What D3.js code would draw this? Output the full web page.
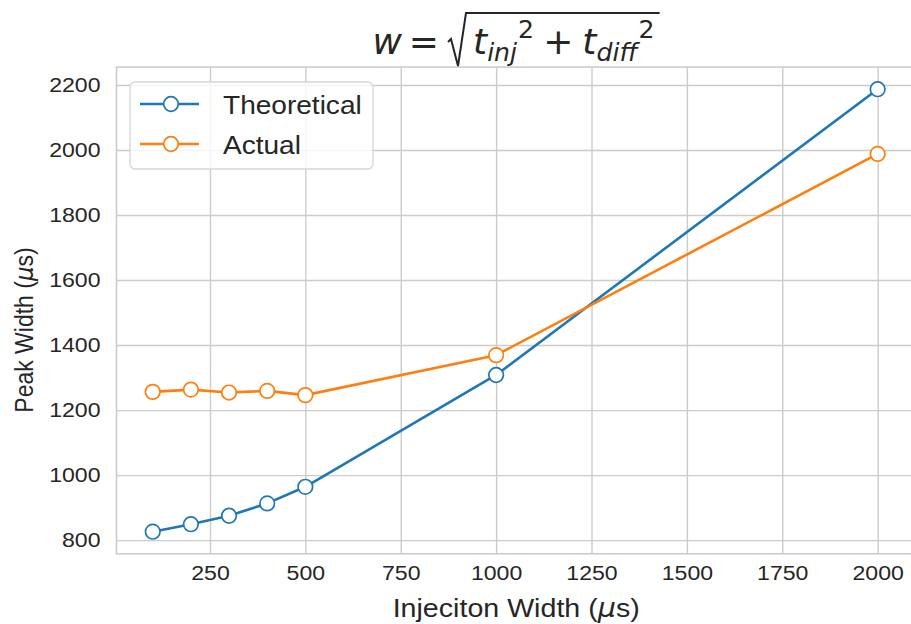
<!DOCTYPE html>
<html>
<head>
<meta charset="utf-8">
<script src="https://cdn.jsdelivr.net/npm/d3@7"></script>
<style>
  html, body { margin: 0; padding: 0; background: #fff; }
  svg { display: block; }
</style>
</head>
<body>
<svg id="chart" width="911" height="624"></svg>
<script>
// Injection width (µs) and measured / predicted peak widths (µs)
const injectionWidth = [100, 200, 300, 400, 500, 1000, 2000];
const theoretical = [826, 849, 875, 913, 964, 1308, 2187];
const actual = [1256, 1263, 1254, 1259, 1246, 1369, 1988];
const seriesNames = ["Theoretical", "Actual"];
const xTickValues = [250, 500, 750, 1000, 1250, 1500, 1750, 2000];
const yTickValues = [800, 1000, 1200, 1400, 1600, 1800, 2000, 2200];

const colors = ["#1f77b4", "#ff7f0e"];
const gridColor = "#cccccc";
const textColor = "#262626";
const sansFont = "'Liberation Sans', Arial, sans-serif";
const mathFont = "'DejaVu Sans', sans-serif";
const widen = 1.1; // horizontal glyph stretch used for the axis and legend text

const svg = d3.select("#chart");
const plot = { left: 116.5, right: 913.9, top: 67.1, bottom: 553.8 };

// matplotlib-style 5% margins around the data
function padded(values) {
  const [lo, hi] = d3.extent(values);
  const m = (hi - lo) * 0.05;
  return [lo - m, hi + m];
}
const x = d3.scaleLinear().domain(padded(injectionWidth)).range([plot.left, plot.right]);
const y = d3.scaleLinear().domain(padded(theoretical.concat(actual))).range([plot.bottom, plot.top]);

// grid
const gridG = svg.append("g");
gridG.append("g")
  .attr("transform", `translate(0,${plot.bottom})`)
  .call(d3.axisBottom(x).tickValues(xTickValues).tickSize(-(plot.bottom - plot.top)).tickFormat(""))
  .call(g => g.select(".domain").remove())
  .call(g => g.selectAll("line").attr("stroke", gridColor).attr("stroke-width", 1.4));
gridG.append("g")
  .attr("transform", `translate(${plot.left},0)`)
  .call(d3.axisLeft(y).tickValues(yTickValues).tickSize(-(plot.right - plot.left)).tickFormat(""))
  .call(g => g.select(".domain").remove())
  .call(g => g.selectAll("line").attr("stroke", gridColor).attr("stroke-width", 1.4));

// frame
svg.append("rect")
  .attr("x", plot.left).attr("y", plot.top)
  .attr("width", plot.right - plot.left).attr("height", plot.bottom - plot.top)
  .attr("fill", "none").attr("stroke", gridColor).attr("stroke-width", 1.6);

// tick labels
const xAxis = svg.append("g")
  .attr("transform", `translate(0,${plot.bottom})`)
  .call(d3.axisBottom(x).tickValues(xTickValues).tickSize(0).tickPadding(11).tickFormat(d3.format("d")));
xAxis.select(".domain").remove();
xAxis.selectAll("text")
  .attr("font-family", sansFont).attr("font-size", 21).attr("fill", textColor)
  .attr("transform", `scale(${widen},1)`);

const yPad = 16;
const yAxis = svg.append("g")
  .attr("transform", `translate(${plot.left},0)`)
  .call(d3.axisLeft(y).tickValues(yTickValues).tickSize(0).tickPadding(yPad).tickFormat(d3.format("d")));
yAxis.select(".domain").remove();
yAxis.selectAll("text")
  .attr("font-family", sansFont).attr("font-size", 21).attr("fill", textColor)
  .attr("x", -yPad / widen)
  .attr("transform", `scale(${widen},1)`);

// axis labels
const xl = svg.append("text")
  .attr("transform", `translate(${(plot.left + plot.right) / 2 + 1},617) scale(${widen},1)`)
  .attr("text-anchor", "middle")
  .attr("font-family", sansFont).attr("font-size", 26).attr("fill", textColor);
xl.append("tspan").text("Injeciton Width (");
xl.append("tspan").attr("font-family", mathFont).attr("font-style", "italic").text("μ");
xl.append("tspan").text("s)");

const yl = svg.append("text")
  .attr("transform", `translate(33,330) scale(${widen},1) rotate(-90)`)
  .attr("text-anchor", "middle")
  .attr("font-family", sansFont).attr("font-size", 23).attr("fill", textColor);
yl.append("tspan").text("Peak Width (");
yl.append("tspan").attr("font-family", mathFont).attr("font-style", "italic").text("μ");
yl.append("tspan").text("s)");

// series
const series = [theoretical, actual];
const line = d3.line().x((d, i) => x(injectionWidth[i])).y(d => y(d));
series.forEach((vals, s) => {
  const g = svg.append("g");
  g.append("path").datum(vals)
    .attr("d", line).attr("fill", "none")
    .attr("stroke", colors[s]).attr("stroke-width", 2.6).attr("stroke-linejoin", "round");
  g.selectAll("circle").data(vals).join("circle")
    .attr("cx", (d, i) => x(injectionWidth[i])).attr("cy", d => y(d))
    .attr("r", 7.3).attr("fill", "#fff")
    .attr("stroke", colors[s]).attr("stroke-width", 1.7);
});

// legend
const lg = svg.append("g").attr("transform", "translate(130,82)");
lg.append("rect").attr("width", 243).attr("height", 87).attr("rx", 5)
  .attr("fill", "#fff").attr("fill-opacity", 0.8)
  .attr("stroke", "#d6d6d6").attr("stroke-width", 1.3);
seriesNames.forEach((name, i) => {
  const row = lg.append("g").attr("transform", `translate(0,${22 + i * 40})`);
  row.append("line").attr("x1", 10).attr("x2", 69)
    .attr("stroke", colors[i]).attr("stroke-width", 2.6);
  row.append("circle").attr("cx", 41).attr("r", 7.3)
    .attr("fill", "#fff").attr("stroke", colors[i]).attr("stroke-width", 1.7);
  row.append("text")
    .attr("transform", `translate(93,10) scale(${widen},1)`)
    .attr("font-family", sansFont).attr("font-size", 25.5).attr("fill", textColor)
    .text(name);
});

// title: w = sqrt(t_inj^2 + t_diff^2), laid out piece by piece
const fs = 36;
const tg = svg.append("g");
let cx = 0;
const base = 54;
function piece(txt, opts = {}) {
  const t = tg.append("text")
    .attr("x", cx).attr("y", base + (opts.dy || 0))
    .attr("font-family", mathFont)
    .attr("font-size", fs * (opts.scale || 1))
    .attr("font-style", opts.italic ? "italic" : "normal")
    .attr("fill", textColor)
    .text(txt);
  cx += t.node().getComputedTextLength() + (opts.after || 0);
  return t;
}
piece("w", { italic: true, after: 7 });
piece("=", { after: 8 });
const radStart = cx;
cx += 26;
piece("t", { italic: true });
piece("inj", { italic: true, scale: 0.7, dy: 7, after: 1 });
piece("2", { scale: 0.7, dy: -16, after: 9 });
piece("+", { after: 9 });
piece("t", { italic: true });
piece("diff", { italic: true, scale: 0.7, dy: 7, after: 1 });
piece("2", { scale: 0.7, dy: -16, after: 5 });
const radEnd = cx;
tg.append("path")
  .attr("d", `M${radStart + 1},${base - 12} L${radStart + 4},${base - 15} L${radStart + 11},${base + 12} L${radStart + 19},${base - 41} L${radEnd},${base - 41}`)
  .attr("fill", "none").attr("stroke", textColor).attr("stroke-width", 2)
  .attr("stroke-linejoin", "miter");
tg.attr("transform", `translate(${516 - radEnd / 2},0)`);
</script>
</body>
</html>
